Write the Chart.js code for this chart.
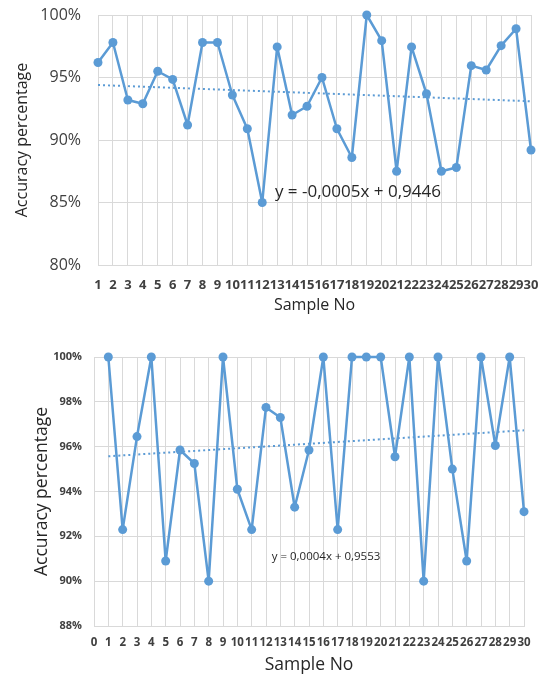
<!DOCTYPE html>
<html><head><meta charset="utf-8">
<script src="https://cdn.jsdelivr.net/npm/chart.js@4"></script>
<style>
body{margin:0;background:#fff;width:547px;height:674px;overflow:hidden;position:relative}
#c1{position:absolute;left:0;top:0}
#c2{position:absolute;left:0;top:330px}
</style></head>
<body>
<canvas id="c1" width="547" height="330"></canvas>
<canvas id="c2" width="547" height="344"></canvas>
<script>
// ---------- data: top chart ----------
const samplesTop = [1,2,3,4,5,6,7,8,9,10,11,12,13,14,15,16,17,18,19,20,21,22,23,24,25,26,27,28,29,30];
const accuracyTop = [96.2,97.8,93.2,92.9,95.5,94.85,91.2,97.8,97.8,93.6,90.9,85.0,97.45,92.0,92.7,95.0,90.9,88.6,100,97.95,87.5,97.45,93.7,87.5,87.8,95.95,95.6,97.55,98.9,89.2];
const trendTopX = [1,30];
const trendTopY = [94.4,93.1];
const equationTop = 'y = -0,0005x + 0,9446';
const equationTopPos = [12.85, 85.8];
const yTicksTop = [80,85,90,95,100];

// ---------- data: bottom chart ----------
const samplesBottom = [1,2,3,4,5,6,7,8,9,10,11,12,13,14,15,16,17,18,19,20,21,22,23,24,25,26,27,28,29,30];
const accuracyBottom = [100,92.3,96.45,100,90.9,95.85,95.25,90.0,100,94.1,92.3,97.75,97.3,93.3,95.85,100,92.3,100,100,100,95.55,100,90.0,100,95.0,90.9,100,96.05,100,93.1];
const trendBottomX = [1,30];
const trendBottomY = [95.57,96.73];
const equationBottom = 'y = 0,0004x + 0,9553';
const equationBottomPos = [12.4, 91.1];
const yTicksBottom = [88,90,92,94,96,98,100];

const BLUE = '#5b9bd5';
const GRID = '#d9d9d9';

function eqPlugin(text, pos, font){
  return {
    id:'eq',
    afterDatasetsDraw(chart){
      const c = chart.ctx;
      const x = chart.scales.x.getPixelForValue(pos[0]);
      const y = chart.scales.y.getPixelForValue(pos[1]);
      c.save();
      c.font = font;
      c.fillStyle = '#262626';
      c.textAlign = 'left';
      c.textBaseline = 'middle';
      c.fillText(text, x, y);
      c.restore();
    }
  };
}

function makeChart(id, cfg){
  const pts = cfg.xs.map((x,i)=>({x:x, y:cfg.ys[i]}));
  const trend = cfg.tx.map((x,i)=>({x:x, y:cfg.ty[i]}));
  return new Chart(document.getElementById(id), {
    type:'line',
    data:{datasets:[
      {data:trend, borderColor:BLUE, borderWidth:2, borderDash:[2,3], pointRadius:0, fill:false, tension:0, clip:false, order:2},
      {data:pts, borderColor:BLUE, backgroundColor:BLUE, borderWidth:2.5, borderJoinStyle:'round', borderCapStyle:'round', pointRadius:cfg.pr, pointBorderWidth:0, pointBackgroundColor:BLUE, fill:false, tension:0, clip:false, order:1}
    ]},
    options:{
      responsive:false, animation:false,
      layout:{padding:cfg.pad},
      plugins:{legend:{display:false}, tooltip:{enabled:false}},
      scales:{
        x:{
          type:'linear', min:cfg.xmin, max:30,
          afterFit(s){ s.height = cfg.xh; s.paddingLeft = 0; s.paddingRight = 0; },
          afterBuildTicks(s){ s.ticks = []; for(let v=cfg.xmin; v<=30; v++) s.ticks.push({value:v}); },
          grid:{color:GRID, lineWidth:1, drawTicks:false},
          border:{color:GRID},
          ticks:{autoSkip:false, maxRotation:0, minRotation:0, padding:cfg.xpad, color:'#404040', font:cfg.xfont},
          title:{display:true, text:'Sample No', color:'#262626', font:cfg.xtfont, padding:cfg.xtpad}
        },
        y:{
          min:cfg.ymin, max:100,
          afterFit(s){ s.width = cfg.yw; s.paddingTop = 0; s.paddingBottom = 0; },
          afterBuildTicks(s){ s.ticks = cfg.yticks.map(v=>({value:v})); },
          grid:{color:GRID, lineWidth:1, drawTicks:false},
          border:{color:GRID},
          ticks:{padding:cfg.ypad, color:'#404040', font:cfg.yfont, callback:v=>v+'%'},
          title:{display:true, text:'Accuracy percentage', color:'#262626', font:cfg.ytfont, padding:cfg.ytpad}
        }
      }
    },
    plugins:[eqPlugin(cfg.eq, cfg.eqPos, cfg.eqFont)]
  });
}

makeChart('c1', {
  xs:samplesTop, ys:accuracyTop, tx:trendTopX, ty:trendTopY,
  xmin:1, ymin:80, yticks:yTicksTop, pr:4.5,
  pad:{top:15, right:16, left:0, bottom:0},
  xh:65, yw:98,
  xpad:12, xfont:{family:'Open Sans', size:13, weight:'bold'},
  xtfont:{family:'Open Sans', size:16}, xtpad:{top:0, bottom:15},
  ypad:17, yfont:{family:'Open Sans', size:16},
  ytfont:{family:'Open Sans', size:16}, ytpad:{top:13, bottom:0},
  eq:equationTop, eqPos:equationTopPos, eqFont:'17px "Open Sans"'
});

makeChart('c2', {
  xs:samplesBottom, ys:accuracyBottom, tx:trendBottomX, ty:trendBottomY,
  xmin:0, ymin:88, yticks:yTicksBottom, pr:4.5,
  pad:{top:27, right:23, left:0, bottom:0},
  xh:48, yw:94,
  xpad:10, xfont:{family:'Open Sans', size:11.5, weight:'bold'},
  xtfont:{family:'Open Sans', size:17.5, lineHeight:1}, xtpad:{top:0, bottom:0},
  ypad:12, yfont:{family:'Open Sans', size:11, weight:'bold'},
  ytfont:{family:'Open Sans', size:17.5}, ytpad:{top:32, bottom:0},
  eq:equationBottom, eqPos:equationBottomPos, eqFont:'11.5px "Open Sans"'
});
</script>
</body></html>
